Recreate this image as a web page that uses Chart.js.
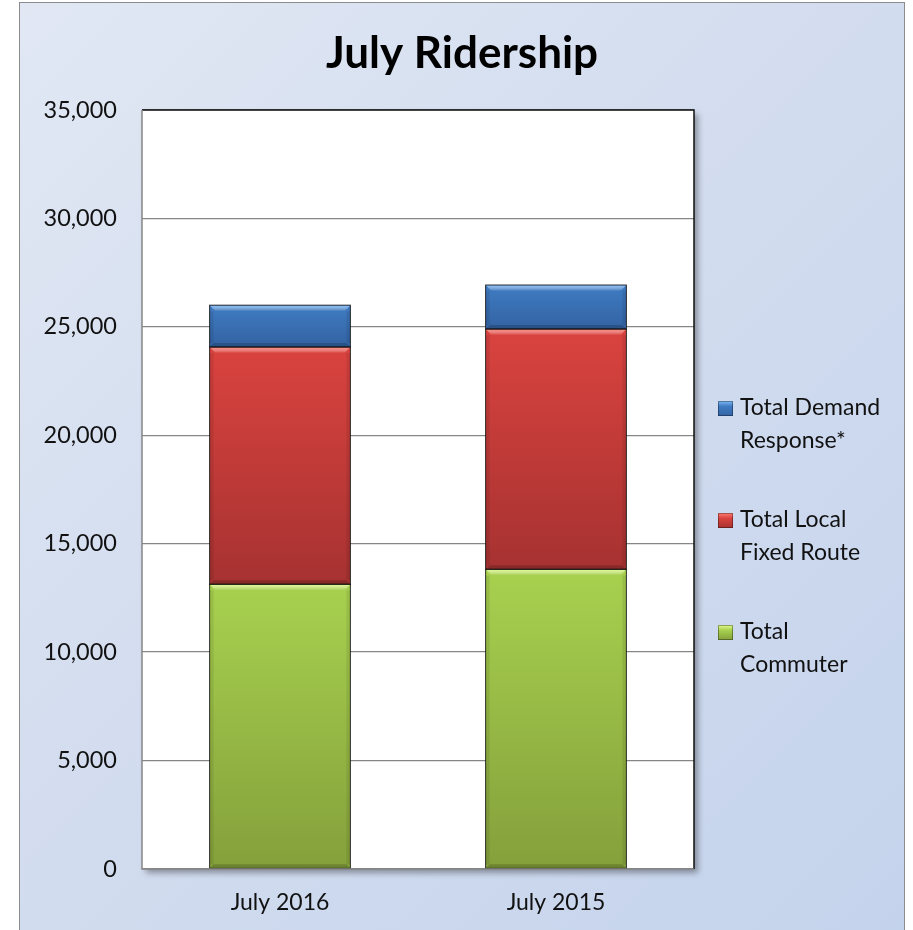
<!DOCTYPE html>
<html>
<head>
<meta charset="utf-8">
<script src="https://cdn.jsdelivr.net/npm/chart.js@4.4.0/dist/chart.umd.min.js"></script>
<style>
  html, body { margin: 0; padding: 0; background: #ffffff; }
  #box {
    position: absolute; left: 19px; top: 2px; width: 884px; height: 940px;
    border: 1px solid #8c8c8c;
    background: linear-gradient(135deg, #e1e8f4 0%, #d3ddef 45%, #c4d3ec 100%);
  }
  #chart { position: absolute; left: 0; top: 0; }
</style>
</head>
<body>
<div id="box"><canvas id="chart" width="884" height="928"></canvas></div>
<script>
var chartTitle = 'July Ridership';
var months = ['July 2016', 'July 2015'];
var seriesNames = ['Total Commuter', 'Total Local Fixed Route', 'Total Demand Response*'];
var commuter = [13130, 13820];
var localFixed = [10940, 11080];
var demandResp = [1930, 2030];
var yTicks = [0, 5000, 10000, 15000, 20000, 25000, 30000, 35000];

// top / bottom shade and bevel highlight for each series
var shades = [
    ['#a8d14f', '#84a03b'],
    ['#da433f', '#a63231'],
    ['#3f7bc2', '#3363a3']
];
var highlight = ['#e4fb8e', '#ff8078', '#80bbf7'];
var swatch = ['#9bbb59', '#c0504d', '#4f81bd'];

var FONT = 'Lato, Calibri, "Open Sans", sans-serif';

function barFill(c) {
    var chart = c.chart;
    var y = chart.scales.y;
    if (!y || !chart.chartArea || c.dataIndex === undefined) return swatch[c.datasetIndex];
    var base = 0;
    for (var i = 0; i < c.datasetIndex; i++) base += chart.data.datasets[i].data[c.dataIndex];
    var top = base + chart.data.datasets[c.datasetIndex].data[c.dataIndex];
    var y0 = y.getPixelForValue(top), y1 = y.getPixelForValue(base);
    if (!isFinite(y0) || !isFinite(y1) || y0 === y1) return swatch[c.datasetIndex];
    var g = chart.ctx.createLinearGradient(0, y0, 0, y1);
    var s = shades[c.datasetIndex];
    g.addColorStop(0, s[0]);
    g.addColorStop(1, s[1]);
    return g;
}

// white plot area with shadow and dark frame, title across the whole canvas
var plotFrame = {
    id: 'plotFrame',
    beforeDraw: function (chart) {
        var a = chart.chartArea, ctx = chart.ctx;
        ctx.save();
        ctx.shadowColor = 'rgba(0,0,0,0.35)';
        ctx.shadowBlur = 6;
        ctx.shadowOffsetX = 4;
        ctx.shadowOffsetY = 4;
        ctx.fillStyle = '#ffffff';
        ctx.fillRect(a.left, a.top, a.right - a.left, a.bottom - a.top);
        ctx.restore();

        ctx.save();
        ctx.font = 'bold 44px ' + FONT;
        ctx.fillStyle = '#000000';
        ctx.textAlign = 'center';
        ctx.textBaseline = 'alphabetic';
        ctx.fillText(chartTitle, chart.width / 2, 65);
        ctx.restore();
    },
    afterDraw: function (chart) {
        var a = chart.chartArea, ctx = chart.ctx;
        ctx.save();
        ctx.lineWidth = 1.5;
        ctx.strokeStyle = '#111111';
        ctx.beginPath();
        ctx.moveTo(a.left, a.top);
        ctx.lineTo(a.right, a.top);
        ctx.lineTo(a.right, a.bottom);
        ctx.stroke();
        ctx.strokeStyle = '#868686';
        ctx.beginPath();
        ctx.moveTo(a.left, a.top);
        ctx.lineTo(a.left, a.bottom);
        ctx.lineTo(a.right, a.bottom);
        ctx.stroke();
        ctx.restore();
    }
};

// Excel-like bevel on each bar segment
var bevel = {
    id: 'bevel',
    afterDatasetsDraw: function (chart) {
        var ctx = chart.ctx;
        chart.data.datasets.forEach(function (ds, i) {
            chart.getDatasetMeta(i).data.forEach(function (bar) {
                var p = bar.getProps(['x', 'y', 'base', 'width'], true);
                var l = p.x - p.width / 2, r = p.x + p.width / 2;
                var t = Math.min(p.y, p.base), b = Math.max(p.y, p.base);
                var d = 6;
                ctx.save();
                // top highlight
                var g = ctx.createLinearGradient(0, t, 0, t + d);
                g.addColorStop(0, highlight[i]);
                g.addColorStop(1, 'rgba(255,255,255,0)');
                ctx.fillStyle = g;
                ctx.beginPath();
                ctx.moveTo(l, t); ctx.lineTo(r, t); ctx.lineTo(r - d, t + d); ctx.lineTo(l + d, t + d);
                ctx.closePath();
                ctx.fill();
                // bottom shade
                ctx.fillStyle = 'rgba(0,0,0,0.18)';
                ctx.beginPath();
                ctx.moveTo(l, b); ctx.lineTo(r, b); ctx.lineTo(r - 4, b - 4); ctx.lineTo(l + 4, b - 4);
                ctx.closePath();
                ctx.fill();
                // side shade
                ctx.fillStyle = 'rgba(0,0,0,0.08)';
                ctx.fillRect(l, t + d, 4, b - t - d - 4);
                ctx.fillRect(r - 4, t + d, 4, b - t - d - 4);
                ctx.strokeStyle = 'rgba(15,15,15,0.85)';
                ctx.lineWidth = 1;
                ctx.strokeRect(l, t, r - l, b - t);
                ctx.restore();
            });
        });
    }
};

// legend on the right with wrapped labels, top series first
var sideLegend = {
    id: 'sideLegend',
    afterDraw: function (chart) {
        var a = chart.chartArea, ctx = chart.ctx;
        var x = a.right + 24;
        var y = a.top + 305;
        ctx.save();
        ctx.font = '23px ' + FONT;
        ctx.textBaseline = 'alphabetic';
        var maxW = ctx.measureText('Total Demand').width + 4;
        var sets = chart.data.datasets;
        for (var i = sets.length - 1; i >= 0; i--) {
            var words = sets[i].label.split(' ');
            var lines = [], cur = '';
            words.forEach(function (w) {
                var t = cur ? cur + ' ' + w : w;
                if (cur && ctx.measureText(t).width > maxW) { lines.push(cur); cur = w; }
                else cur = t;
            });
            lines.push(cur);
            var g = ctx.createLinearGradient(0, y - 14, 0, y + 1);
            g.addColorStop(0, highlight[i]);
            g.addColorStop(0.35, shades[i][0]);
            g.addColorStop(1, shades[i][1]);
            ctx.fillStyle = g;
            ctx.fillRect(x, y - 14, 15, 15);
            ctx.strokeStyle = 'rgba(0,0,0,0.35)';
            ctx.lineWidth = 1;
            ctx.strokeRect(x + 0.5, y - 13.5, 14, 14);
            ctx.fillStyle = '#111111';
            lines.forEach(function (ln, k) {
                ctx.fillText(ln, x + 22, y + k * 33);
            });
            y += 112;
        }
        ctx.restore();
    }
};

function series(i, values) {
    return {
        label: seriesNames[i],
        data: values,
        backgroundColor: barFill,
        borderWidth: 0,
        barPercentage: 0.51,
        categoryPercentage: 1
    };
}

var ctx = document.getElementById('chart').getContext('2d');
new Chart(ctx, {
    type: 'bar',
    data: {
        labels: months,
        datasets: [series(0, commuter), series(1, localFixed), series(2, demandResp)]
    },
    options: {
        responsive: false,
        animation: false,
        layout: { padding: { left: 0, right: 210, top: 107, bottom: 0 } },
        scales: {
            x: {
                stacked: true,
                grid: { display: false, drawTicks: false },
                border: { display: false },
                ticks: { color: '#111111', font: { family: FONT, size: 23 }, padding: 20 },
                afterFit: function (s) { s.height = 62; }
            },
            y: {
                stacked: true,
                min: 0,
                max: 35000,
                afterBuildTicks: function (s) { s.ticks = yTicks.map(function (v) { return { value: v }; }); },
                grid: { color: '#868686', lineWidth: 1.3, drawTicks: false },
                border: { display: false },
                ticks: {
                    color: '#111111',
                    font: { family: FONT, size: 23.5 },
                    padding: 25,
                    callback: function (v) { return Number(v).toLocaleString('en-US'); }
                },
                afterFit: function (s) { s.width = 122; }
            }
        },
        plugins: {
            legend: { display: false },
            tooltip: { enabled: false },
            colors: { enabled: false },
            title: { display: false }
        }
    },
    plugins: [plotFrame, bevel, sideLegend]
});
</script>
</body>
</html>
